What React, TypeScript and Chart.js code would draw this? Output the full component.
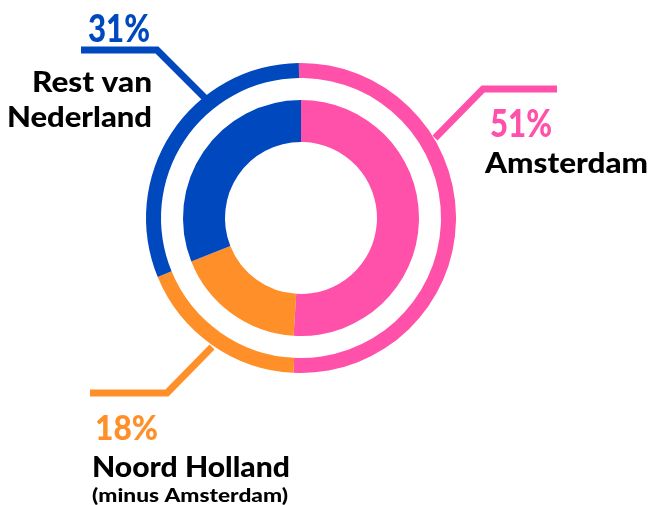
import React, { useEffect, useRef } from 'react';
import { Chart, registerables } from 'chart.js';

Chart.register(...registerables);

const categories = ['Amsterdam', 'Noord Holland', 'Rest van Nederland'];
const innerValues = [51, 18, 31];
const outerValues = [51, 18, 31];
const percentLabels = ['51%', '18%', '31%'];
const labelLines = [['Amsterdam'], ['Noord Holland'], ['Rest van', 'Nederland']];
const subLabels = ['', '(minus Amsterdam)', ''];
const colors = ['#FF50AA', '#FF8F28', '#0048BE'];

const FONT = 'Lato, "Open Sans", sans-serif';

const labelPlugin = {
  id: 'labels',
  afterDraw(chart: any) {
    const ctx = chart.ctx as CanvasRenderingContext2D;
    ctx.save();
    ctx.lineWidth = 7;
    ctx.lineJoin = 'miter';
    ctx.lineCap = 'butt';
    const lines: [number, number][][] = [
      [[557, 89], [483, 89], [435, 138]],
      [[90, 393], [167, 393], [212, 347]],
      [[81, 50], [157, 50], [205, 98]],
    ];
    lines.forEach((pts, i) => {
      ctx.strokeStyle = colors[i];
      ctx.beginPath();
      ctx.moveTo(pts[0][0], pts[0][1]);
      for (let k = 1; k < pts.length; k++) ctx.lineTo(pts[k][0], pts[k][1]);
      ctx.stroke();
    });

    // draws text stretched to a target width (left edge x0, right edge x1)
    const txt = (s: string, x0: number, x1: number, y: number, size: number, color: string) => {
      ctx.save();
      ctx.font = `900 ${size}px ${FONT}`;
      ctx.fillStyle = color;
      ctx.textAlign = 'left';
      ctx.textBaseline = 'alphabetic';
      const mw = ctx.measureText(s).width;
      const sx = (x1 - x0) / mw;
      ctx.translate(x0, y);
      ctx.scale(sx, 1);
      ctx.fillText(s, 0, 0);
      ctx.restore();
    };

    txt(percentLabels[0], 490, 552, 137, 37, colors[0]);
    txt(labelLines[0][0], 485, 648, 173, 28, '#000');
    txt(percentLabels[1], 95, 158, 440, 35, colors[1]);
    txt(labelLines[1][0], 92, 290, 477, 28, '#000');
    txt(subLabels[1], 92, 288, 502, 19, '#000');
    txt(percentLabels[2], 88, 150, 42, 37, colors[2]);
    txt(labelLines[2][0], 32, 152, 92, 29, '#000');
    txt(labelLines[2][1], 7, 152, 127, 29, '#000');
    ctx.restore();
  },
};

export default function App() {
  const ref = useRef<HTMLCanvasElement>(null);
  useEffect(() => {
    if (!ref.current) return;
    const chart = new Chart(ref.current, {
      type: 'doughnut',
      data: {
        labels: categories,
        datasets: [
          {
            data: outerValues,
            backgroundColor: colors,
            borderWidth: 0,
            weight: 15,
            rotation: -0.8,
          } as any,
          {
            data: [1],
            backgroundColor: ['rgba(0,0,0,0)'],
            borderWidth: 0,
            weight: 22,
          },
          {
            data: innerValues,
            backgroundColor: colors,
            borderWidth: 0,
            weight: 42,
          },
        ],
      },
      options: {
        responsive: false,
        animation: false,
        events: [],
        cutout: `${(76 / 155) * 100}%`,
        layout: { padding: { left: 146, right: 195, top: 63, bottom: 132 } },
        plugins: {
          legend: { display: false },
          tooltip: { enabled: false },
        },
      },
      plugins: [labelPlugin],
    });
    return () => chart.destroy();
  }, []);
  return (
    <div style={{ position: 'fixed', left: 0, top: 0, width: 651, height: 505, background: '#fff' }}>
      <canvas ref={ref} width={651} height={505} style={{ width: 651, height: 505, display: 'block' }} />
    </div>
  );
}
